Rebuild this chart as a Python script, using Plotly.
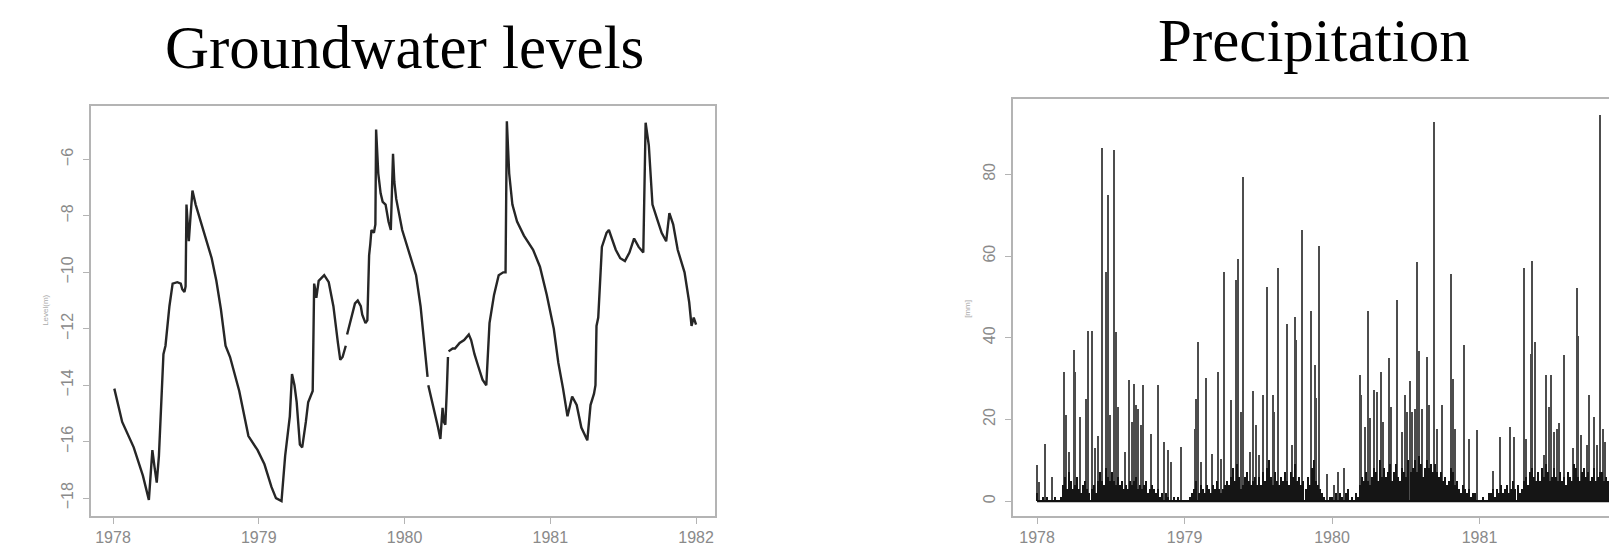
import plotly.graph_objects as go

# ---------------- Groundwater levels (m) ----------------
gw_year = [1978.009, 1978.030, 1978.063, 1978.142, 1978.205, 1978.246, 1978.270, 1978.285, 1978.300,
           1978.315, 1978.331, 1978.346, 1978.360, 1978.387, 1978.409, 1978.441, 1978.465, 1978.475,
           1978.490, 1978.498, 1978.504, 1978.510, 1978.520, 1978.532, 1978.545, 1978.567, 1978.614,
           1978.677, 1978.709, 1978.740, 1978.772, 1978.803, 1978.866, 1978.929, 1978.992, 1979.039,
           1979.087, 1979.118, 1979.156, 1979.181, 1979.213, 1979.228, 1979.245, 1979.260, 1979.282,
           1979.298, 1979.323, 1979.339, 1979.370, 1979.380, 1979.387, 1979.395, 1979.411, 1979.449,
           1979.480, 1979.512, 1979.543, 1979.559, 1979.575, 1979.597, None,
           1979.606, 1979.638, 1979.660, 1979.679, 1979.700, 1979.710, 1979.732, 1979.745, 1979.757,
           1979.765, 1979.773, 1979.790, 1979.800, 1979.805, 1979.820, 1979.836, 1979.850, 1979.870,
           1979.890, 1979.906, 1979.921, 1979.930, 1979.943, 1979.984, 1980.031, 1980.079, 1980.110,
           1980.142, 1980.158, None,
           1980.163, 1980.205, 1980.230, 1980.246, 1980.261, 1980.270, 1980.280, 1980.290, 1980.298, None,
           1980.302, 1980.330, 1980.346, 1980.378, 1980.409, 1980.441, 1980.457, 1980.480, 1980.504,
           1980.535, 1980.561, 1980.583, 1980.614, 1980.646, 1980.677, 1980.693, 1980.702, 1980.718,
           1980.740, 1980.772, 1980.819, 1980.882, 1980.929, 1980.976, 1981.024, 1981.055, 1981.087,
           1981.118, 1981.150, 1981.181, 1981.213, 1981.254, 1981.276, 1981.300, 1981.310, 1981.317,
           1981.329, 1981.354, 1981.386, 1981.402, 1981.449, 1981.480, 1981.512, 1981.543, 1981.575,
           1981.606, 1981.638, 1981.654, 1981.676, 1981.701, 1981.732, 1981.764, 1981.795, 1981.817,
           1981.843, 1981.874, 1981.921, 1981.953, 1981.969, 1981.984, 1982.000]
gw_level = [-14.12, -14.6, -15.3, -16.2, -17.2, -18.06, -16.3, -16.9, -17.45,
            -16.5, -14.7, -12.9, -12.6, -11.2, -10.4, -10.35, -10.4, -10.6,
            -10.7, -10.5, -7.6, -8.3, -8.9, -8.0, -7.1, -7.6, -8.4,
            -9.5, -10.3, -11.3, -12.6, -13.0, -14.2, -15.8, -16.3, -16.8,
            -17.6, -18.0, -18.1, -16.5, -15.1, -13.6, -14.0, -14.6, -16.1,
            -16.2, -15.3, -14.6, -14.2, -10.4, -10.6, -10.9, -10.3, -10.1,
            -10.35, -11.2, -12.5, -13.1, -13.0, -12.6, None,
            -12.2, -11.5, -11.1, -11.0, -11.2, -11.5, -11.8, -11.7, -9.4,
            -9.0, -8.5, -8.6, -8.3, -4.94, -6.5, -7.2, -7.5, -7.6,
            -8.2, -8.5, -5.8, -6.8, -7.4, -8.5, -9.3, -10.1, -11.2,
            -12.9, -13.7, None,
            -14.0, -14.9, -15.5, -15.9, -14.8, -15.3, -15.4, -14.2, -13.0, None,
            -12.8, -12.7, -12.7, -12.5, -12.4, -12.2, -12.4, -12.9, -13.3,
            -13.8, -14.0, -11.8, -10.8, -10.1, -10.0, -10.0, -4.65, -6.5,
            -7.6, -8.2, -8.7, -9.2, -9.8, -10.8, -12.0, -13.2, -14.1,
            -15.1, -14.4, -14.7, -15.5, -15.95, -14.7, -14.3, -14.0, -11.9,
            -11.6, -9.1, -8.6, -8.5, -9.2, -9.5, -9.6, -9.3, -8.8,
            -9.1, -9.3, -4.7, -5.5, -7.6, -8.1, -8.6, -8.9, -7.9,
            -8.3, -9.2, -10.0, -11.06, -11.9, -11.6, -11.85]

# ---------------- Precipitation (mm) ----------------
# distinct daily spikes
spike_year = [1978.000, 1978.016, 1978.057, 1978.105, 1978.184, 1978.200, 1978.216, 1978.248, 1978.257,
              1978.292, 1978.333, 1978.349, 1978.371, 1978.390, 1978.413, 1978.444, 1978.470, 1978.479,
              1978.492, 1978.524, 1978.533, 1978.546, 1978.594, 1978.625, 1978.641, 1978.657, 1978.673,
              1978.686, 1978.705, 1978.717, 1978.771, 1978.819, 1978.863, 1978.889, 1978.911, 1978.978,
              1979.073, 1979.079, 1979.095, 1979.111, 1979.149, 1979.184, 1979.225, 1979.248, 1979.267,
              1979.314, 1979.349, 1979.365, 1979.381, 1979.397, 1979.444, 1979.467, 1979.486, 1979.508,
              1979.533, 1979.559, 1979.597, 1979.610, 1979.632, 1979.692, 1979.730, 1979.749, 1979.759,
              1979.797, 1979.860, 1979.886, 1979.895, 1979.911, 1979.968, 1980.016, 1980.041, 1980.079,
              1980.190, 1980.200, 1980.222, 1980.241, 1980.260, 1980.286, 1980.305, 1980.330, 1980.343,
              1980.387, 1980.403, 1980.438, 1980.476, 1980.492, 1980.508, 1980.530, 1980.546, 1980.562,
              1980.578, 1980.590, 1980.610, 1980.641, 1980.660, 1980.692, 1980.695, 1980.714, 1980.746,
              1980.806, 1980.819, 1980.832, 1980.895, 1980.927, 1980.984, 1981.089, 1981.137, 1981.206,
              1981.235, 1981.305, 1981.317, 1981.349, 1981.356, 1981.378, 1981.435, 1981.454, 1981.470,
              1981.486, 1981.505, 1981.524, 1981.540, 1981.575, 1981.635, 1981.660, 1981.670, 1981.689,
              1981.727, 1981.746, 1981.778, 1981.797, 1981.819, 1981.835, 1981.850]
spike_mm = [8.8, 4.7, 14.0, 6.0, 31.5, 21.0, 12.0, 36.9, 31.5,
            20.6, 25.0, 41.7, 41.5, 12.9, 16.0, 86.5, 56.0, 75.0,
            21.0, 86.0, 41.3, 23.0, 12.0, 29.5, 19.4, 28.7, 23.4,
            22.6, 18.5, 28.5, 16.5, 28.5, 14.5, 12.5, 9.6, 13.3,
            17.7, 25.0, 38.9, 9.6, 30.0, 11.6, 31.7, 10.4, 56.0,
            24.7, 54.0, 59.2, 21.8, 79.4, 12.0, 27.0, 18.5, 11.2,
            26.0, 52.5, 25.9, 21.8, 57.0, 43.4, 13.7, 45.0, 39.3,
            66.3, 46.4, 33.2, 25.2, 62.5, 6.5, 3.9, 7.2, 8.0,
            30.8, 25.9, 18.1, 46.6, 20.2, 27.1, 26.7, 31.6, 19.4,
            35.0, 23.0, 49.3, 16.9, 25.9, 21.8, 29.3, 21.8, 22.6,
            58.6, 36.6, 22.6, 35.2, 23.4, 92.8, 71.4, 17.7, 23.4,
            55.6, 29.9, 17.7, 38.1, 15.3, 17.3, 7.3, 15.7, 18.1,
            15.7, 57.1, 15.3, 36.0, 58.8, 38.9, 11.2, 30.9, 23.0,
            30.9, 16.9, 17.7, 19.0, 35.8, 12.9, 52.1, 40.5, 16.1,
            13.7, 26.0, 20.6, 13.7, 94.4, 17.7, 14.4]

# background of small daily amounts, one value per 5-day slot, per year
base_1978 = [2, 0, 0, 1, 0, 1, 0, 0, 0, 1, 0, 0, 1,
             4, 6, 3, 7, 5, 3, 4, 6, 3, 2, 4, 5, 3, 2, 3, 4, 2, 5, 7, 5, 4,
             8, 6, 5, 7, 5, 4, 6, 4, 5, 3, 4,
             3, 5, 4, 5, 6, 3, 4, 3, 4, 5, 2, 3, 4, 3, 2, 3,
             1, 2, 0, 2, 1, 0, 0, 1, 0, 1, 0, 0]
base_1979 = [0, 0, 0, 1, 2,
             3, 5, 2, 4, 3, 2, 4, 3, 2, 4, 3, 5, 3, 2, 3, 4,
             5, 4, 6, 8, 5, 9, 6, 3, 4, 6, 7, 5, 4, 5, 6,
             4, 6, 4, 7, 5, 8, 10, 6, 4, 7, 5, 4, 6, 5, 7,
             5, 4, 7, 6, 9, 5, 6, 4, 5, 3, 6, 4, 8, 10, 5, 4, 3, 2, 1,
             0, 0, 1]
base_1980 = [1, 0, 2, 0, 2, 1, 0, 2, 3, 0, 1, 0, 2, 1,
             4, 6, 5, 7, 5, 4, 6, 8, 7, 5, 10, 6,
             8, 6, 7, 9, 5, 7, 9, 6, 5, 8, 7, 6, 10, 7, 8,
             10, 7, 11, 9, 6, 8, 10, 8, 9, 7, 9, 7, 6, 7, 5,
             6, 4, 5, 8, 7, 4, 5, 3,
             2, 4, 3, 2, 3, 1, 2, 2, 0]
base_1981 = [0, 0, 1, 0, 0, 2,
             2, 3, 1, 3, 2, 4, 2, 3, 4, 2, 3, 5, 3, 4, 2, 3,
             5, 6, 4, 7, 8, 6, 5, 7, 5, 8, 6, 9, 7, 5, 6, 8, 6, 5, 7,
             5, 6, 4, 7, 6, 5, 9, 8, 6, 5, 7, 8, 6, 7, 5, 6, 8, 5, 6, 7,
             7, 5, 6, 5, 6, 4, 5, 4, 5, 3, 4, 3]
year_labels = [1978, 1979, 1980, 1981, 1982]

base_mm = base_1978 + base_1979 + base_1980 + base_1981
slot = 5 / 365.25
base_year = [1978 + i * slot for i in range(len(base_mm))]

# ---------------- Figure ----------------
W, H = 1609, 546
axis_grey = "#b4b4b4"
label_grey = "#8a8a8a"
tick_font = dict(family="Liberation Sans, Arial, sans-serif", size=16, color=label_grey)

fig = go.Figure()

fig.add_trace(go.Scatter(x=gw_year, y=gw_level, mode="lines",
                         line=dict(color="#262626", width=2.4),
                         connectgaps=False, xaxis="x", yaxis="y", showlegend=False))

fig.add_trace(go.Bar(x=spike_year, y=spike_mm, width=0.0075,
                     marker=dict(color="#4d4d4d", line=dict(width=0)),
                     xaxis="x2", yaxis="y2", showlegend=False))
fig.add_trace(go.Bar(x=base_year, y=base_mm, width=slot * 0.55,
                     marker=dict(color="#151515", line=dict(width=0)),
                     xaxis="x2", yaxis="y2", showlegend=False))
fig.add_trace(go.Scatter(x=[base_year[0], base_year[-1]], y=[0, 0], mode="lines",
                         line=dict(color="#111111", width=2.4),
                         xaxis="x2", yaxis="y2", showlegend=False))

common_x = dict(tickvals=year_labels, ticktext=[str(v) for v in year_labels],
                showgrid=False, zeroline=False, showline=True, mirror=True,
                linecolor=axis_grey, linewidth=1.5, ticks="outside", ticklen=6,
                tickcolor=axis_grey, tickwidth=1.2, tickfont=tick_font)

fig.update_layout(
    width=W, height=H, margin=dict(l=0, r=0, t=0, b=0),
    paper_bgcolor="white", plot_bgcolor="white",
    barmode="overlay", bargap=0,
    xaxis=dict(domain=[91 / W, 715 / W], range=[1977.849, 1982.13], anchor="y", **common_x),
    yaxis=dict(domain=[28 / H, 440 / H], range=[-18.635, -4.094], anchor="x",
               tickvals=[-6, -8, -10, -12, -14, -16, -18], tickangle=-90,
               showgrid=False, zeroline=False, showline=True, mirror=True,
               linecolor=axis_grey, linewidth=1.5, ticks="outside", ticklen=6,
               tickcolor=axis_grey, tickwidth=1.2, tickfont=tick_font, ticklabelstandoff=4),
    xaxis2=dict(domain=[1013 / W, 1.0], range=[1977.837, 1981.878], anchor="y2", **common_x),
    yaxis2=dict(domain=[28 / H, 446.5 / H], range=[-3.66, 98.4], anchor="x2",
                tickvals=[0, 20, 40, 60, 80], tickangle=-90,
                showgrid=False, zeroline=False, showline=True, mirror=False,
                linecolor=axis_grey, linewidth=1.5, ticks="outside", ticklen=6,
                tickcolor=axis_grey, tickwidth=1.2, tickfont=tick_font, ticklabelstandoff=4),
    annotations=[
        dict(text="Groundwater levels", x=404.5 / W, y=(H - 48) / H, xref="paper", yref="paper",
             xanchor="center", yanchor="middle", showarrow=False,
             font=dict(family="Liberation Serif, Times New Roman, serif", size=61, color="black")),
        dict(text="Precipitation", x=1314 / W, y=(H - 41) / H, xref="paper", yref="paper",
             xanchor="center", yanchor="middle", showarrow=False,
             font=dict(family="Liberation Serif, Times New Roman, serif", size=61, color="black")),
        dict(text="Level(m)", x=46 / W, y=(H - 312) / H, xref="paper", yref="paper",
             xanchor="center", yanchor="middle", showarrow=False, textangle=-90,
             font=dict(family="Liberation Sans, Arial, sans-serif", size=8, color="#aaaaaa")),
        dict(text="[mm]", x=968 / W, y=(H - 310) / H, xref="paper", yref="paper",
             xanchor="center", yanchor="middle", showarrow=False, textangle=-90,
             font=dict(family="Liberation Sans, Arial, sans-serif", size=8, color="#aaaaaa")),
    ],
)

fig.write_html("out.html")
